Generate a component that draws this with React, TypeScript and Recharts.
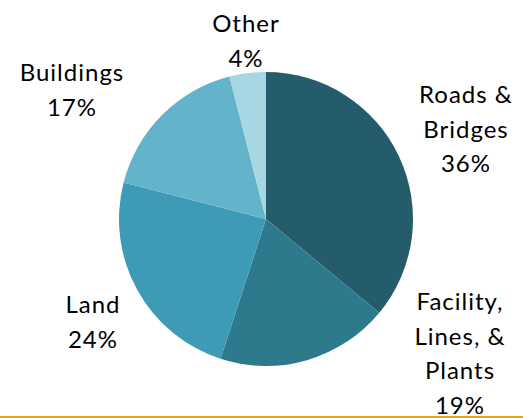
import { PieChart, Pie, Cell } from 'recharts';

const categories = ['Roads & Bridges', 'Facility, Lines, & Plants', 'Land', 'Buildings', 'Other'];
const shares = [36, 19, 24, 17, 4];
const labelLines = [
  ['Roads &', 'Bridges'],
  ['Facility,', 'Lines, &', 'Plants'],
  ['Land'],
  ['Buildings'],
  ['Other'],
];
const colors = ['#245C6B', '#2E7A8D', '#3D9BB5', '#63B4CB', '#A7D7E3'];

// where each label block sits, relative to the pie centre (first baseline)
const labelOffsets = [
  [200, -116],
  [194, 91],
  [-173, 94],
  [-194, -138],
  [-20, -187],
];

const data = categories.map((name, i) => ({ name, value: shares[i] }));

const LINE_H = 34.5;

function renderLabel(props: any) {
  const { cx, cy, index } = props;
  const [dx, dy] = labelOffsets[index];
  const lines = [...labelLines[index], `${shares[index]}%`];
  return (
    <text
      x={cx + dx}
      y={cy + dy}
      textAnchor="middle"
      fill="#000"
      style={{ fontFamily: 'Lato, sans-serif', fontSize: 24, letterSpacing: 1 }}
    >
      {lines.map((t, k) => (
        <tspan key={k} x={cx + dx} dy={k === 0 ? 0 : LINE_H}>
          {t}
        </tspan>
      ))}
    </text>
  );
}

export default function App() {
  return (
    <div style={{ position: 'absolute', left: 0, top: 0, width: 523, height: 418, background: '#fff' }}>
      <PieChart width={523} height={418} margin={{ top: 0, right: 0, bottom: 0, left: 0 }}>
        <Pie
          data={data}
          dataKey="value"
          nameKey="name"
          cx={266}
          cy={219}
          outerRadius={147}
          startAngle={90}
          endAngle={-270}
          stroke="none"
          label={renderLabel}
          labelLine={false}
          isAnimationActive={false}
        >
          {data.map((d, i) => (
            <Cell key={d.name} fill={colors[i]} />
          ))}
        </Pie>
      </PieChart>
      <div style={{ position: 'absolute', left: 0, top: 416, width: 523, height: 2, background: '#E8A800' }} />
    </div>
  );
}
